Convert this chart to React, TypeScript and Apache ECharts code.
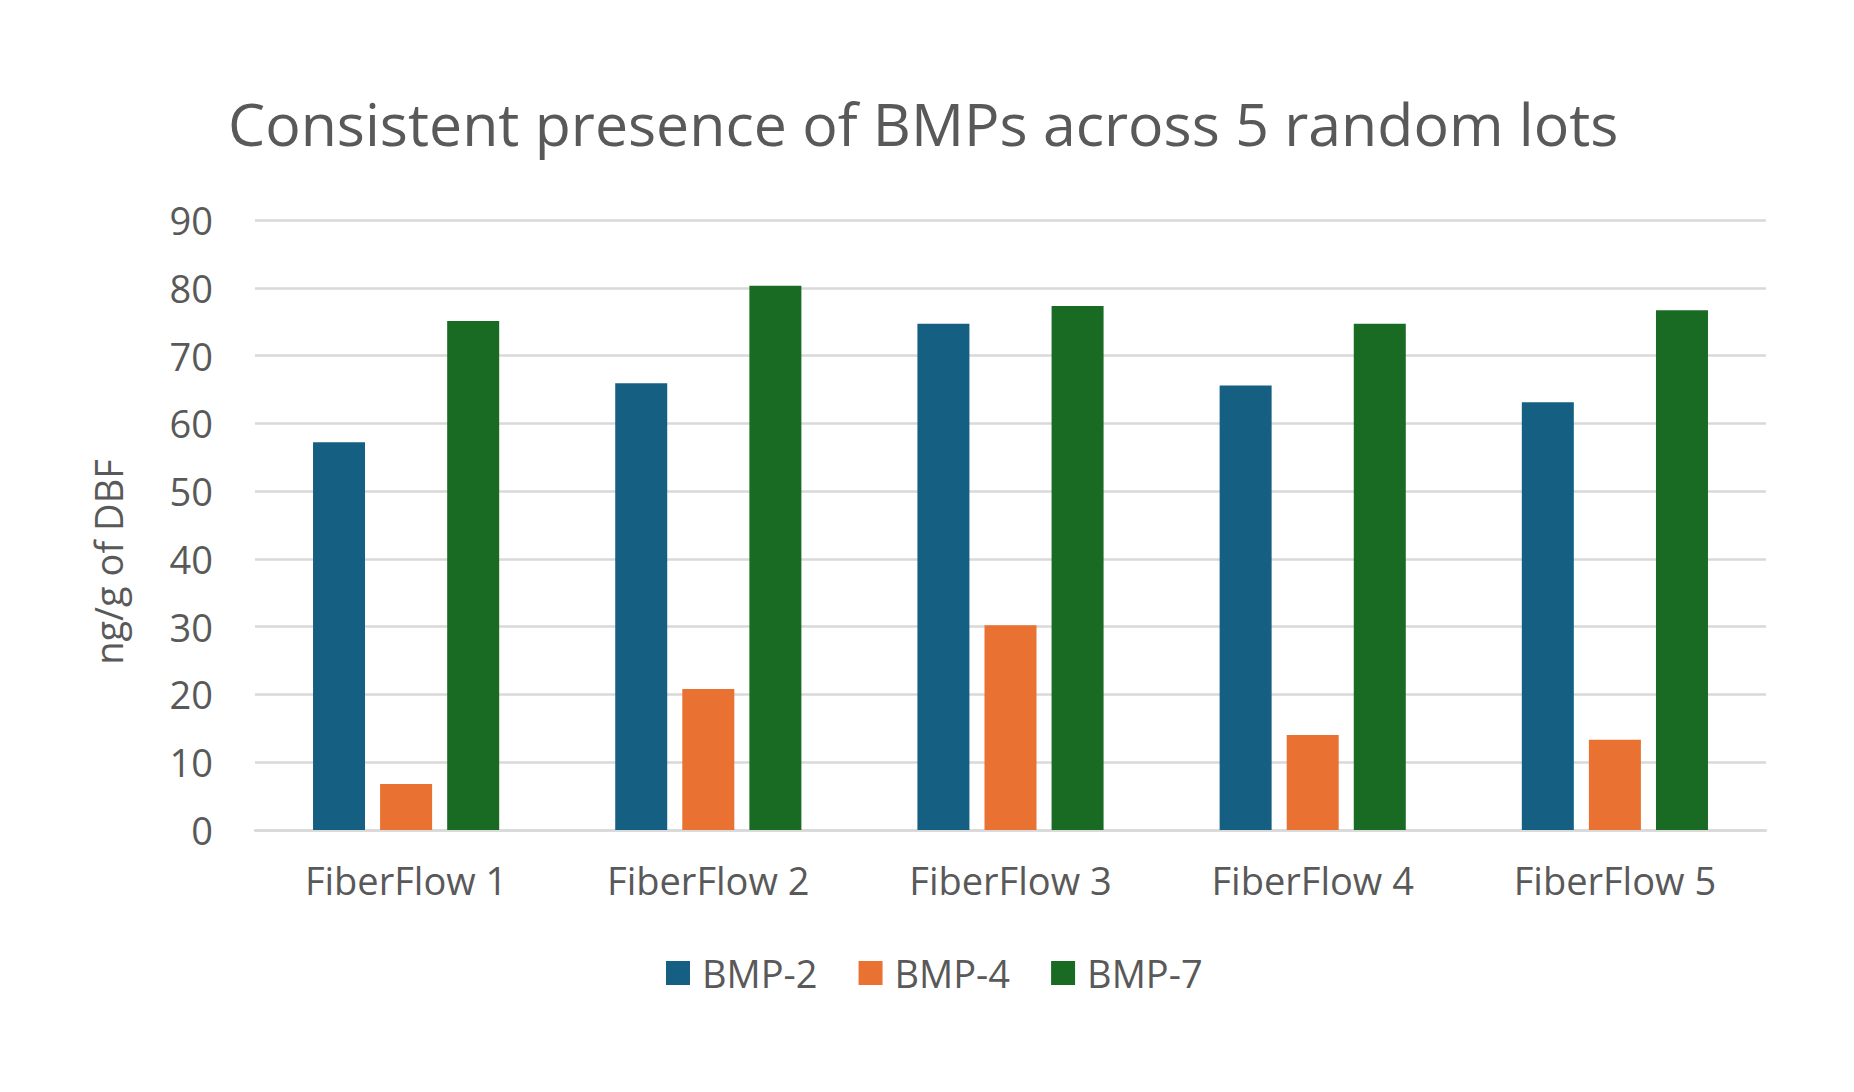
import React, { useEffect, useRef } from "react";
import * as echarts from "echarts";

const categories = ["FiberFlow 1", "FiberFlow 2", "FiberFlow 3", "FiberFlow 4", "FiberFlow 5"];
const seriesNames = ["BMP-2", "BMP-4", "BMP-7"];
const bmp2 = [57.2, 65.9, 74.7, 65.6, 63.1];
const bmp4 = [6.8, 20.8, 30.2, 14.0, 13.3];
const bmp7 = [75.1, 80.3, 77.3, 74.7, 76.7];
const colors = ["#156082", "#E97132", "#196B24"];
const titleText = "Consistent presence of BMPs across 5 random lots";
const yAxisTitle = "ng/g of DBF";

const FONT = "'Open Sans', sans-serif";
const TXT = "#595959";

export default function App() {
  const ref = useRef<HTMLDivElement>(null);
  useEffect(() => {
    document.body.style.margin = "0";
    const chart = echarts.init(ref.current!, null, { renderer: "svg" });
    const values = [bmp2, bmp4, bmp7];
    chart.setOption({
      animation: false,
      backgroundColor: "#ffffff",
      textStyle: { fontFamily: FONT },
      title: {
        text: titleText,
        left: 228,
        top: 93,
        padding: 0,
        textStyle: { fontFamily: FONT, fontSize: 59, fontWeight: "normal", color: TXT, lineHeight: 59 },
      },
      graphic: [
        {
          type: "text",
          x: 108,
          y: 562,
          rotation: Math.PI / 2,
          style: {
            text: yAxisTitle,
            fontFamily: FONT,
            fontSize: 38,
            fill: TXT,
            align: "center",
            verticalAlign: "middle",
          },
        },
      ],
      legend: {
        left: 666,
        top: 954,
        padding: 0,
        itemWidth: 24,
        itemHeight: 24,
        itemGap: 41,
        icon: "rect",
        data: seriesNames,
        textStyle: { fontFamily: FONT, fontSize: 38, color: TXT, padding: [0, 0, 0, 7], lineHeight: 38 },
      },
      grid: { left: 255, right: 88, top: 220, bottom: 262, containLabel: false },
      xAxis: {
        type: "category",
        data: categories,
        axisLine: { lineStyle: { color: "#d9d9d9", width: 2.5 } },
        axisTick: { show: false },
        axisLabel: { fontFamily: FONT, fontSize: 38, color: TXT, margin: 31, lineHeight: 38 },
      },
      yAxis: {
        type: "value",
        min: 0,
        max: 90,
        interval: 10,
        axisLine: { show: false },
        axisTick: { show: false },
        splitLine: { lineStyle: { color: "#d9d9d9", width: 2.5 } },
        axisLabel: { fontFamily: FONT, fontSize: 38, color: TXT, margin: 42 },
      },
      series: seriesNames.map((name, i) => ({
        name,
        type: "bar",
        data: values[i],
        barWidth: 52,
        barGap: "29%",
        itemStyle: { color: colors[i] },
      })),
    });
    return () => chart.dispose();
  }, []);
  return <div ref={ref} style={{ position: "absolute", left: 0, top: 0, width: 1854, height: 1092 }} />;
}
